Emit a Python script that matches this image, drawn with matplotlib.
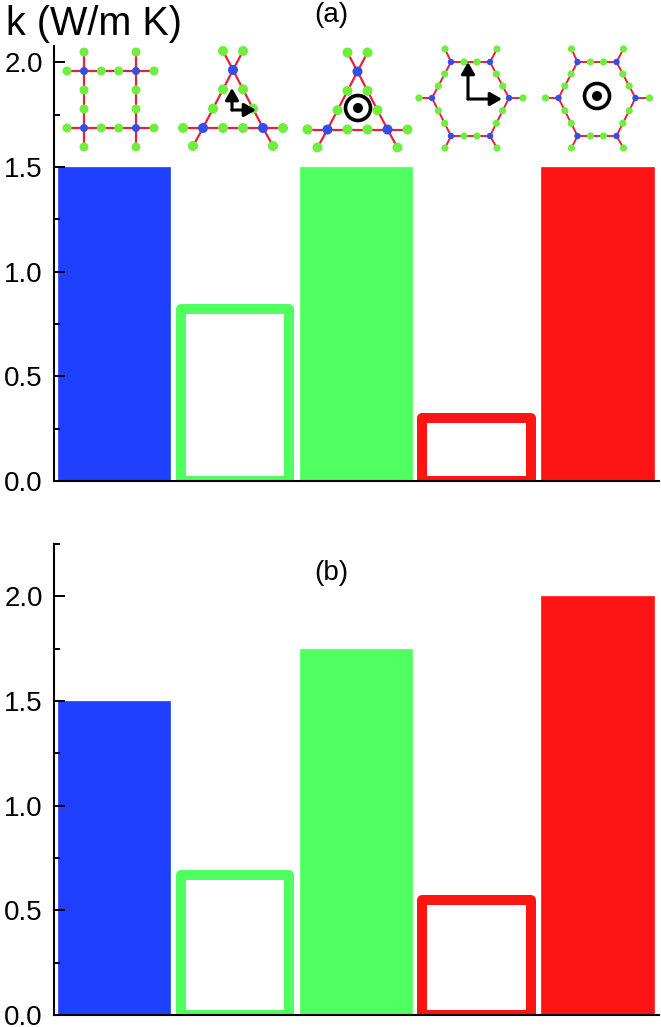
import numpy as np
import matplotlib
matplotlib.use('Agg')
import matplotlib.pyplot as plt
from matplotlib.patches import Circle
from matplotlib.ticker import MultipleLocator

plt.rcParams['font.family'] = ['Liberation Sans', 'DejaVu Sans']

positions = [1, 2, 3, 4, 5]
values_a = [1.5, 0.82, 1.5, 0.30, 1.5]
values_b = [1.5, 0.67, 1.75, 0.55, 2.0]
colors = ['#2040ff', '#50ff60', '#50ff60', '#ff1414', '#ff1414']
hollow = [False, True, False, True, False]

BLUE = '#3050e8'
GREEN = '#70ee40'
RED = '#e8203c'

W, H = 661, 1027


def draw_bars(ax, values, ymax):
    for x, v, c, h in zip(positions, values, colors, hollow):
        if h:
            ax.bar(x, v, width=0.90, facecolor='white', edgecolor=c, linewidth=7.2,
                   joinstyle='round')
        else:
            ax.bar(x, v, width=0.93, color=c, edgecolor=c, linewidth=0.5)
    ax.set_xlim(0.503, 5.51)
    ax.set_ylim(0, ymax)
    ax.set_xticks([])
    ax.yaxis.set_major_locator(MultipleLocator(0.5))
    ax.yaxis.set_minor_locator(MultipleLocator(0.25))
    ax.tick_params(axis='y', which='major', direction='in', length=8, width=1.4, labelsize=20, pad=8)
    ax.tick_params(axis='y', which='minor', direction='in', length=4.5, width=1.4)
    ax.set_axisbelow(False)
    for s in ['top', 'right']:
        ax.spines[s].set_visible(False)
    for s in ['left', 'bottom']:
        ax.spines[s].set_linewidth(1.5)


def axes_px(left, right, top, bottom):
    return fig.add_axes([left / W, 1 - bottom / H, (right - left) / W, (bottom - top) / H])


def lattice(ov, nodes, edges, ends, rb, rg, lw):
    # edges carry two ligands each, ends hang off a node
    greens = []
    for i, j in edges:
        a, b = np.array(nodes[i]), np.array(nodes[j])
        ov.plot([a[0], b[0]], [a[1], b[1]], color=RED, lw=lw, zorder=2)
        greens.append(a + (b - a) / 3)
        greens.append(a + 2 * (b - a) / 3)
    for i, p in ends:
        a = nodes[i]
        ov.plot([a[0], p[0]], [a[1], p[1]], color=RED, lw=lw, zorder=2)
        greens.append(p)
    for p in greens:
        ov.add_patch(Circle(p, rg, color=GREEN, lw=0, zorder=3))
    for p in nodes:
        ov.add_patch(Circle(p, rb, color=BLUE, lw=0, zorder=4))


def axes_arrows(ov, x, y, up, right):
    for dx, dy in [(0, -up), (right, 0)]:
        ov.annotate('', xy=(x + dx, y + dy), xytext=(x, y), zorder=6,
                    arrowprops=dict(arrowstyle='-|>,head_width=0.4,head_length=0.7',
                                    color='black', lw=2.2, shrinkA=0, shrinkB=0))


def circle_dot(ov, x, y):
    ov.add_patch(Circle((x, y), 12.5, facecolor='white', edgecolor='black', lw=2.6, zorder=6))
    ov.add_patch(Circle((x, y), 5, color='black', lw=0, zorder=7))


def triangle(ov, dx, dy, rg):
    nodes = [(233 + dx, 70 + dy), (203 + dx, 128 + dy), (263 + dx, 128 + dy)]
    ends = [(0, (223 + dx, 51 + dy)), (0, (243 + dx, 51 + dy)),
            (1, (183 + dx, 128 + dy)), (1, (193 + dx, 146 + dy)),
            (2, (283 + dx, 128 + dy)), (2, (273 + dx, 146 + dy))]
    lattice(ov, nodes, [(0, 1), (1, 2), (2, 0)], ends, 5, rg, 1.6)


def hexagon(ov, dx):
    nodes = [(451 + dx, 62), (490 + dx, 62), (509 + dx, 98),
             (490 + dx, 136), (451 + dx, 136), (432 + dx, 98)]
    edges = [(0, 1), (1, 2), (2, 3), (3, 4), (4, 5), (5, 0)]
    ends = [(0, (445 + dx, 49)), (1, (497 + dx, 49)), (2, (523 + dx, 98)),
            (3, (497 + dx, 148)), (4, (445 + dx, 148)), (5, (419 + dx, 98))]
    lattice(ov, nodes, edges, ends, 3.2, 3.6, 1.4)


fig = plt.figure(figsize=(W / 100, H / 100), dpi=100)

ax_a = axes_px(54, 659, 46, 481)
draw_bars(ax_a, values_a, 2.078)
ax_b = axes_px(54, 659, 544, 1015)
draw_bars(ax_b, values_b, 2.25)

# overlay in pixel coordinates for the structure sketches and the labels
ov = fig.add_axes([0, 0, 1, 1], facecolor='none')
ov.set_xlim(0, W)
ov.set_ylim(H, 0)
ov.axis('off')

square_nodes = [(84, 71), (136, 71), (136, 128), (84, 128)]
square_ends = [(0, (67, 71)), (0, (84, 52)), (1, (136, 52)), (1, (154, 71)),
               (2, (154, 128)), (2, (136, 147)), (3, (84, 147)), (3, (67, 128))]
lattice(ov, square_nodes, [(0, 1), (1, 2), (2, 3), (3, 0)], square_ends, 4, 4.5, 1.6)

triangle(ov, 0, 0, 5)
axes_arrows(ov, 232, 110, 22, 24)
triangle(ov, 124.5, 1.5, 5)
circle_dot(ov, 358, 108)
hexagon(ov, 0)
axes_arrows(ov, 468, 99, 37, 34)
hexagon(ov, 126.5)
circle_dot(ov, 597, 96)

ov.text(6, 24, 'k (W/m K)', fontsize=28.5, va='center', ha='left')
ov.text(331, 15, '(a)', fontsize=20, va='center', ha='center')
ov.text(331, 573, '(b)', fontsize=20, va='center', ha='center')

fig.savefig('out.png', dpi=100)
